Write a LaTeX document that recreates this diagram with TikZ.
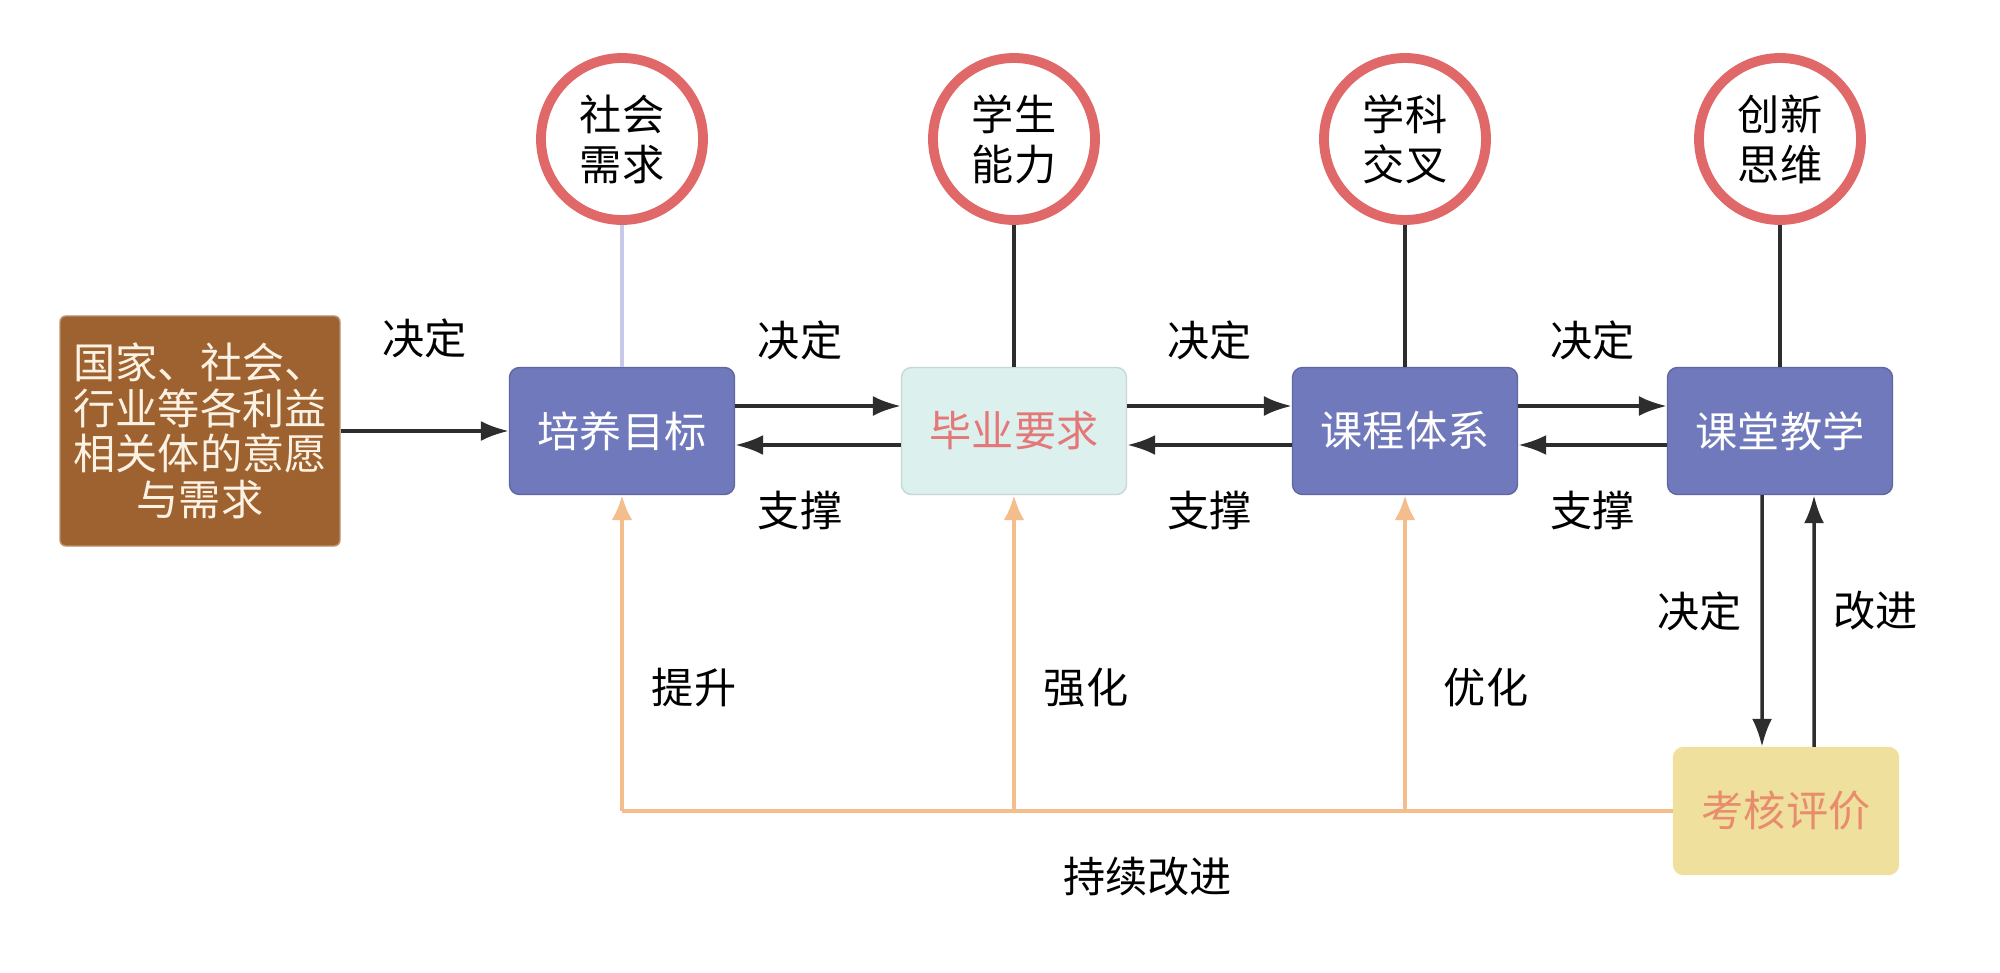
\documentclass[tikz,border=0pt]{standalone}
\usepackage{fontspec}
\setmainfont{Noto Sans CJK SC}
\usetikzlibrary{arrows.meta,positioning}
\definecolor{stageblue}{RGB}{112,121,188}
\definecolor{needbrown}{RGB}{158,98,48}
\definecolor{reqfill}{RGB}{220,240,238}
\definecolor{reqtext}{RGB}{228,120,120}
\definecolor{evalfill}{RGB}{239,224,158}
\definecolor{evaltext}{RGB}{232,140,110}
\definecolor{ringred}{RGB}{224,104,104}
\definecolor{linegray}{RGB}{45,45,45}
\definecolor{palelink}{RGB}{200,200,232}
\definecolor{loopbeige}{RGB}{244,190,140}

\begin{document}
\begin{tikzpicture}
  [on grid,>={Latex[length=2.8mm,width=2mm]},
  every node/.style={font=\fontsize{12}{13}\selectfont},
  stage/.style={rectangle,rounded corners=1mm,minimum width=2.25cm,minimum height=1.27cm,
    fill=stageblue,draw=stageblue!85!black,text=white},
  idea/.style={circle,draw=ringred,line width=2.8pt,fill=white,minimum size=1.62cm,
    inner sep=0pt,align=center,font=\fontsize{12}{14.2}\selectfont},
  link/.style={->,line width=1pt,draw=linegray},
  tie/.style={line width=0.9pt,draw=linegray},
  feedback/.style={line width=1.2pt,draw=loopbeige},
  feedback arrow/.style={feedback,-{Latex[length=2.5mm,width=2.1mm]}}]
  \useasboundingbox (0,0) rectangle (20,9.72);

  % main chain
  \node [stage] (goal) at (6.22,5.41) {培养目标};
  \node [stage,fill=reqfill,draw=reqfill!90!black,text=reqtext] (req) [right=3.92 of goal] {毕业要求};
  \node [stage] (course) [right=3.91 of req] {课程体系};
  \node [stage] (teach) [right=3.75 of course] {课堂教学};
  \node [stage,fill=evalfill,draw=evalfill,text=evaltext] (eval) [below=3.8 of teach,xshift=0.6mm] {考核评价};
  \node [rectangle,rounded corners=0.6mm,fill=needbrown,draw=needbrown!70!white,text={rgb,255:red,252;green,242;blue,228},
    minimum width=2.8cm,minimum height=2.3cm,align=center] (need) [left=4.22 of goal]
    {国家、社会、\\行业等各利益\\相关体的意愿\\与需求};

  % influences
  \node [idea] (society) [above=2.92 of goal] {社会\\需求};
  \node [idea] (ability) [above=2.92 of req] {学生\\能力};
  \node [idea] (cross) [above=2.92 of course] {学科\\交叉};
  \node [idea] (innov) [above=2.92 of teach] {创新\\思维};
  \draw [tie,draw=palelink] (society) -- (goal);
  \draw [tie] (ability) -- (req);
  \draw [tie] (cross) -- (course);
  \draw [tie] (innov) -- (teach);

  \draw [link] (need) -- node [above=6mm] {决定} (goal);
  \draw [link] ([yshift=2.5mm]goal.east) -- node [above=3.3mm,xshift=-1.8mm] {决定} ([yshift=2.5mm]req.west);
  \draw [link] ([yshift=-1.4mm]req.west) -- node [below=3.3mm,xshift=-1.8mm] {支撑} ([yshift=-1.4mm]goal.east);
  \draw [link] ([yshift=2.5mm]req.east) -- node [above=3.3mm] {决定} ([yshift=2.5mm]course.west);
  \draw [link] ([yshift=-1.4mm]course.west) -- node [below=3.3mm] {支撑} ([yshift=-1.4mm]req.east);
  \draw [link] ([yshift=2.5mm]course.east) -- node [above=3.3mm] {决定} ([yshift=2.5mm]teach.west);
  \draw [link] ([yshift=-1.4mm]teach.west) -- node [below=3.3mm] {支撑} ([yshift=-1.4mm]course.east);
  \draw [link] ([xshift=-1.8mm]teach.south) -- node [pos=0.46,left=0.7mm] {决定} ([xshift=-2.4mm]eval.north);
  \draw [link] ([xshift=2.8mm]eval.north) -- node [pos=0.54,right=0.6mm] {改进} ([xshift=3.4mm]teach.south);

  % continuous improvement loop
  \coordinate (j1) at (goal.south |- eval.west);
  \coordinate (j2) at (req.south |- eval.west);
  \coordinate (j3) at (course.south |- eval.west);
  \draw [feedback] (eval.west) -- node [below=3.2mm] {持续改进} (j1);
  \draw [feedback arrow] (j1) -- node [pos=0.39,right=1.6mm] {提升} (goal.south);
  \draw [feedback arrow] (j2) -- node [pos=0.39,right=1.6mm] {强化} (req.south);
  \draw [feedback arrow] (j3) -- node [pos=0.39,right=2.5mm] {优化} (course.south);
\end{tikzpicture}
\end{document}
